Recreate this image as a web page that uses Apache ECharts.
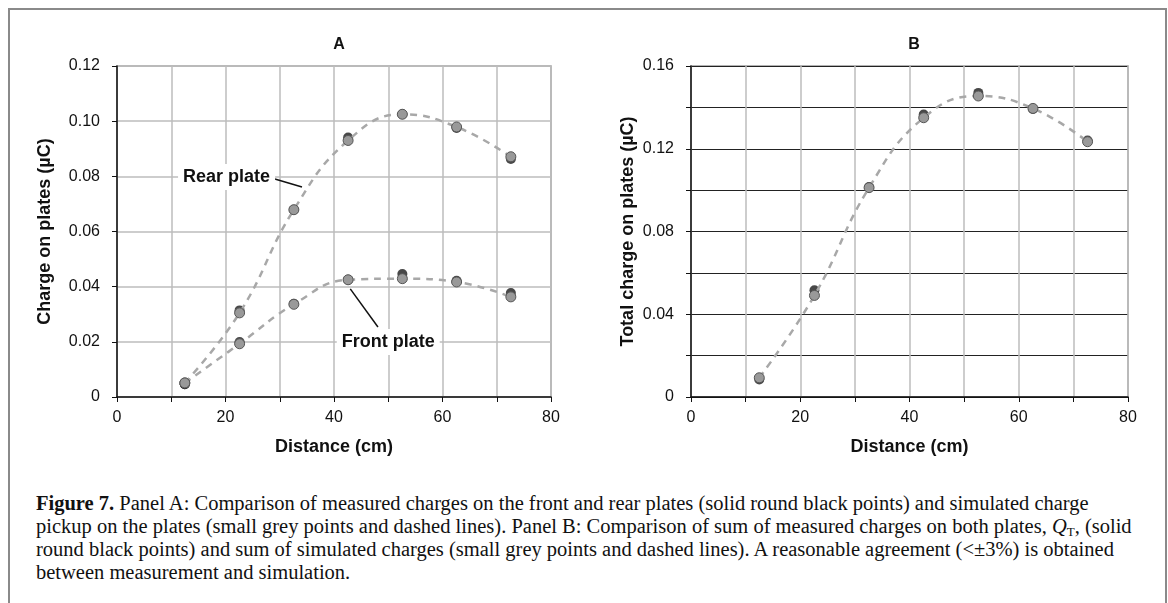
<!DOCTYPE html>
<html>
<head>
<meta charset="utf-8">
<script src="https://cdn.jsdelivr.net/npm/echarts@6/dist/echarts.min.js"></script>
<style>
  html, body { margin: 0; padding: 0; background: #fff; overflow: hidden; }
  #frame { position: absolute; left: 8px; top: 8px; width: 1155px; height: 640px; border: 2px solid #8a8a8a; }
  #chart { position: absolute; left: 0; top: 0; width: 1168px; height: 480px; }
  #caption { position: absolute; left: 36px; top: 492px; font-family: 'Liberation Serif', 'DejaVu Serif', serif; font-size: 20.5px; line-height: 23px; color: #111; white-space: nowrap; }
  #caption b { font-weight: bold; }
  #caption sub { font-size: 13px; line-height: 0; vertical-align: -3px; }
</style>
</head>
<body>
<div id="frame"></div>
<div id="chart"></div>
<div id="caption"><b>Figure 7.</b> Panel A: Comparison of measured charges on the front and rear plates (solid round black points) and simulated charge<br>pickup on the plates (small grey points and dashed lines). Panel B: Comparison of sum of measured charges on both plates, <i>Q</i><sub>T</sub>, (solid<br>round black points) and sum of simulated charges (small grey points and dashed lines). A reasonable agreement (&lt;±3%) is obtained<br>between measurement and simulation.</div>
<script>
// distances (cm) of the plate pairs
var distance = [12.5, 22.6, 32.6, 42.6, 52.6, 62.6, 72.6];

// panel A: charge on plates (uC)
var rearMeasured = [0.0046, 0.0314, 0.0679, 0.0941, 0.1025, 0.0975, 0.0863];
var rearSimulated = [0.0051, 0.0305, 0.0679, 0.0930, 0.1025, 0.0979, 0.0871];
var frontMeasured = [0.0046, 0.0199, 0.0338, 0.0425, 0.0446, 0.0421, 0.0377];
var frontSimulated = [0.0051, 0.0193, 0.0336, 0.0425, 0.0429, 0.0417, 0.0363];

// panel B: total charge (uC)
var totalMeasured = [0.0085, 0.0516, 0.1015, 0.1365, 0.1470, 0.1392, 0.1240];
var totalSimulated = [0.0093, 0.0491, 0.1012, 0.1350, 0.1455, 0.1395, 0.1234];

function pairs(ys) {
    return distance.map(function (x, i) { return [x, ys[i]]; });
}

var font = "'Liberation Sans', Arial, sans-serif";

function xAxisFor(gridIndex) {
    return {
        type: 'value', gridIndex: gridIndex, min: 0, max: 80, interval: 10,
        name: 'Distance (cm)', nameLocation: 'middle', nameGap: 41,
        nameTextStyle: { fontFamily: font, fontSize: 18, fontWeight: 'bold', color: '#111' },
        axisLine: { lineStyle: { color: '#111', width: 1.5 } },
        axisTick: { show: true, length: 5, lineStyle: { color: '#111' } },
        axisLabel: {
            margin: 13, fontFamily: font, fontSize: 16, color: '#111',
            formatter: function (v) { return v % 20 === 0 ? String(v) : ''; }
        },
        splitLine: { show: true, lineStyle: { color: '#bdbdbd', width: 1.5 } }
    };
}

// measured points: solid black
function measured(data, xi, yi) {
    return {
        type: 'scatter', xAxisIndex: xi, yAxisIndex: yi, data: pairs(data),
        symbol: 'circle', symbolSize: 10, z: 3,
        itemStyle: { color: '#1a1a1a' }
    };
}

// simulated points + dashed curve
function simulated(data, xi, yi) {
    return {
        type: 'line', xAxisIndex: xi, yAxisIndex: yi, data: pairs(data),
        smooth: 0.45, symbol: 'circle', symbolSize: 10, showSymbol: true, z: 4,
        lineStyle: { color: '#a8a8a8', width: 2.5, type: [7, 6] },
        itemStyle: { color: '#999', borderColor: '#555', borderWidth: 1 }
    };
}

var noteLabel = {
    show: true, position: 'inside', fontFamily: font, fontSize: 18, fontWeight: 'bold',
    color: '#111', backgroundColor: '#fff', padding: [4, 5]
};
var arrowLine = { color: '#111', width: 1.5, type: 'solid' };

var chart = echarts.init(document.getElementById('chart'));
var option = {
    animation: false,
    title: [
        { text: 'A', left: 334, top: 32, textAlign: 'center',
          textStyle: { fontFamily: font, fontSize: 16, fontWeight: 'bold', color: '#111' } },
        { text: 'B', left: 909, top: 32, textAlign: 'center',
          textStyle: { fontFamily: font, fontSize: 16, fontWeight: 'bold', color: '#111' } }
    ],
    grid: [
        { left: 117, top: 66, width: 434, height: 331, show: true, borderColor: '#9a9a9a', borderWidth: 1.5 },
        { left: 691, top: 66, width: 437, height: 331, show: true, borderColor: '#9a9a9a', borderWidth: 1.5 }
    ],
    xAxis: [xAxisFor(0), xAxisFor(1)],
    yAxis: [
        {
            type: 'value', gridIndex: 0, min: 0, max: 0.12, interval: 0.02,
            name: 'Charge on plates (µC)', nameLocation: 'middle', nameGap: 63,
            nameTextStyle: { fontFamily: font, fontSize: 18, fontWeight: 'bold', color: '#111' },
            axisLine: { show: true, lineStyle: { color: '#111', width: 1.5 } },
            axisTick: { show: true, length: 5, lineStyle: { color: '#111' } },
            axisLabel: {
                margin: 17, fontFamily: font, fontSize: 16, color: '#111',
                formatter: function (v) { return v === 0 ? '0' : v.toFixed(2); }
            },
            splitLine: { show: true, lineStyle: { color: '#bdbdbd', width: 1.5 } }
        },
        {
            type: 'value', gridIndex: 1, min: 0, max: 0.16, interval: 0.02,
            name: 'Total charge on plates (µC)', nameLocation: 'middle', nameGap: 54,
            nameTextStyle: { fontFamily: font, fontSize: 18, fontWeight: 'bold', color: '#111' },
            axisLine: { show: true, lineStyle: { color: '#111', width: 1.5 } },
            axisTick: { show: true, length: 5, lineStyle: { color: '#111' } },
            axisLabel: {
                margin: 17, fontFamily: font, fontSize: 16, color: '#111',
                formatter: function (v) {
                    var k = Math.round(v * 100);
                    if (k % 4 !== 0) return '';
                    return k === 0 ? '0' : v.toFixed(2);
                }
            },
            splitLine: { show: true, lineStyle: { color: '#222', width: 1.2 } }
        }
    ],
    series: [
        measured(rearMeasured, 0, 0),
        measured(frontMeasured, 0, 0),
        Object.assign(simulated(rearSimulated, 0, 0), {
            markPoint: {
                symbol: 'circle', symbolSize: 0, label: noteLabel,
                data: [{ coord: [20.2, 0.0798], value: 'Rear plate' }],
                itemStyle: { color: 'transparent' }
            },
            markLine: {
                silent: true, symbol: ['none', 'arrow'], symbolSize: [0, 9],
                label: { show: false }, lineStyle: arrowLine,
                data: [[{ coord: [29.1, 0.0790] }, { coord: [34.1, 0.0761] }]]
            }
        }),
        Object.assign(simulated(frontSimulated, 0, 0), {
            markPoint: {
                symbol: 'circle', symbolSize: 0, label: noteLabel,
                data: [{ coord: [50.0, 0.0199], value: 'Front plate' }],
                itemStyle: { color: 'transparent' }
            },
            markLine: {
                silent: true, symbol: ['none', 'arrow'], symbolSize: [0, 9],
                label: { show: false }, lineStyle: arrowLine,
                data: [[{ coord: [48.1, 0.0254] }, { coord: [43.0, 0.0392] }]]
            }
        }),
        measured(totalMeasured, 1, 1),
        simulated(totalSimulated, 1, 1)
    ]
};
chart.setOption(option);
</script>
</body>
</html>
